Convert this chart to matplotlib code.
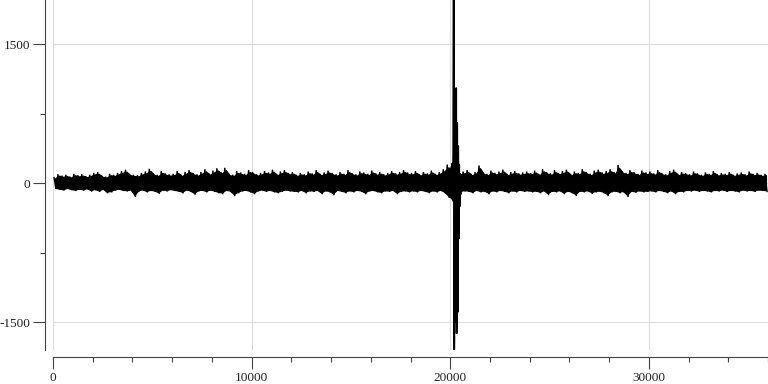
import numpy as np
import matplotlib
matplotlib.use("Agg")
import matplotlib.pyplot as plt
from matplotlib.ticker import MultipleLocator

# ---- data ----
bin_size = 200  # samples per envelope bin
noise_upper = [
    60, 95, 80, 90, 70, 100, 85, 95, 75, 90, 110, 120, 80, 70, 100, 90, 110, 130, 145, 100,
    90, 85, 110, 125, 155, 105, 90, 130, 105, 95,
    100, 130, 90, 120, 140, 110, 95, 120, 150, 105, 135, 160, 120, 165, 100, 90, 130, 115, 100, 140,
    120, 95, 110, 130, 115, 145, 100, 125, 140, 110,
    120, 90, 110, 95, 125, 105, 140, 100, 115, 135, 110, 95, 120, 100, 140, 110, 95, 125, 115, 100,
    135, 105, 120, 95, 110, 130, 105, 120, 140, 115,
    110, 130, 95, 120, 105, 135, 100, 120, 150, 200, 180, 150, 110, 125, 140, 100, 120, 190, 115, 100,
    135, 110, 125, 145, 100, 120, 130, 105, 115, 125,
    110, 135, 100, 150, 120, 105, 140, 110, 130, 145, 100, 125, 110, 150, 120, 100, 135, 145, 115, 130,
    150, 120, 195, 130, 110, 140, 120, 100, 135, 115,
    125, 105, 140, 110, 95, 130, 145, 100, 120, 110, 95, 125, 105, 90, 115, 100, 130, 95, 110, 100,
    120, 90, 105, 115, 95, 125, 100, 110, 90, 100,
]
noise_lower = [
    -60, -70, -80, -60, -75, -85, -70, -80, -65, -90, -75, -95, -70, -110, -100, -80, -70, -85, -90, -80,
    -150, -90, -80, -100, -85, -95, -115, -80, -90, -75,
    -85, -95, -110, -80, -95, -125, -90, -85, -100, -80, -95, -110, -120, -85, -95, -140, -110, -90, -85, -100,
    -120, -90, -80, -95, -85, -100, -110, -95, -80, -90,
    -95, -100, -85, -110, -90, -95, -85, -120, -90, -100, -130, -85, -95, -110, -90, -100, -85, -95, -120, -90,
    -85, -100, -110, -90, -95, -85, -120, -95, -90, -100,
    -90, -100, -85, -95, -110, -90, -100, -85, -110, -160, -200, -170, -100, -90, -95, -110, -85, -100, -95, -120,
    -90, -100, -85, -95, -110, -90, -100, -85, -95, -90,
    -100, -95, -110, -90, -130, -95, -100, -90, -120, -95, -110, -140, -95, -100, -90, -115, -100, -95, -110, -140,
    -100, -95, -110, -100, -150, -95, -105, -90, -100, -95,
    -90, -100, -85, -95, -110, -90, -120, -95, -100, -85, -90, -80, -95, -85, -90, -100, -85, -90, -80, -95,
    -85, -90, -100, -80, -90, -85, -95, -80, -85, -90,
]
spike_samples = [20000, 20025, 20050, 20075, 20100, 20125, 20150, 20175, 20200, 20225, 20250,
                 20275, 20300, 20325, 20350, 20375, 20400, 20425, 20450, 20475, 20500, 20525, 20550]
spike_values = [80, -120, 150, -140, 210, -180, 300, 1975, -1800, -1015, 900,
                -1500, 1025, -1620, 650, -1390, 400, -600, 200, -250, 100, -120, 60]

y_major = [-1500, 0, 1500]
x_major = [0, 10000, 20000, 30000]
x_labels = ["0", "10000", "20000", "30000"]

# ---- build min/max line from envelope ----
n = len(noise_upper)
xs, ys = [], []
for k in range(n):
    xs += [k * bin_size + bin_size * 0.25, k * bin_size + bin_size * 0.75]
    ys += [noise_upper[k], noise_lower[k]]
centers = [k * bin_size + bin_size * 0.5 for k in range(n)]

W, H = 768, 384
fig = plt.figure(figsize=(W / 100, H / 100), dpi=100)
ax = fig.add_axes([53 / W, (H - 350) / H, 715 / W, 350 / H])

# dense trace drawn as its min/max envelope plus the trace itself
ax.fill_between(centers, [v * 0.85 for v in noise_lower], [v * 0.85 for v in noise_upper],
                color="black", lw=0.8, edgecolor="black")
ax.plot(xs, ys, color="black", lw=1.0, solid_joinstyle="miter")
ax.plot(spike_samples, spike_values, color="black", lw=1.3)

ymin = min(min(noise_lower), min(spike_values))
ymax = max(max(noise_upper), max(spike_values))
ax.set_ylim(ymin, ymax)
ax.set_xlim(0, n * bin_size)

ax.set_yticks(y_major)
ax.set_yticklabels([str(v) for v in y_major])
ax.yaxis.set_minor_locator(MultipleLocator(750))
ax.set_xticks(x_major)
ax.set_xticklabels(x_labels)
ax.xaxis.set_minor_locator(MultipleLocator(2000))

ax.grid(True, which="major", color="#dddddd", lw=0.8)
ax.set_axisbelow(True)

for s in ["top", "right"]:
    ax.spines[s].set_visible(False)
ax.spines["left"].set_position(("outward", 5.8))
ax.spines["bottom"].set_position(("outward", 5.0))
for s in ["left", "bottom"]:
    ax.spines[s].set_color("#444444")
    ax.spines[s].set_linewidth(0.8)

ax.tick_params(which="major", length=8.5, width=0.8, color="#444444", pad=2,
               labelsize=9.5, labelcolor="#222222")
ax.tick_params(which="minor", length=3.8, width=0.8, color="#444444")
for lab in ax.get_xticklabels() + ax.get_yticklabels():
    lab.set_fontfamily("Liberation Serif")

fig.savefig("out.png", dpi=100)
